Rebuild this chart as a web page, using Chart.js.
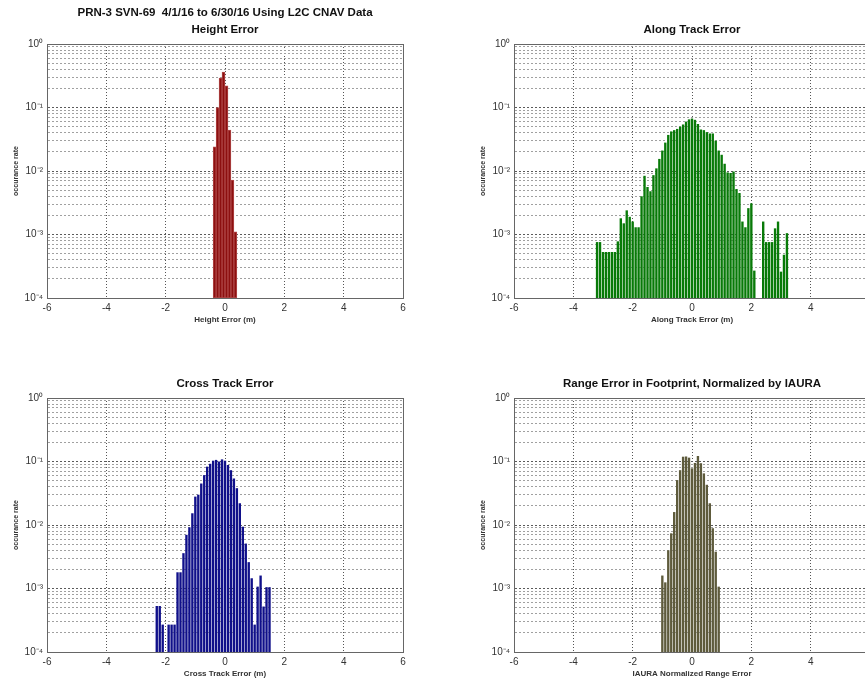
<!DOCTYPE html>
<html>
<head>
<meta charset="utf-8">
<script src="https://cdn.jsdelivr.net/npm/chart.js@4.4.0/dist/chart.umd.min.js"></script>
<style>
  body { margin:0; width:865px; height:684px; overflow:hidden; background:#fff; position:relative; }
  .box { position:absolute; }
</style>
</head>
<body>
<div class="box" style="left:0px;top:0px"><canvas id="c1" width="430" height="328"></canvas></div>
<div class="box" style="left:467px;top:0px"><canvas id="c2" width="430" height="328"></canvas></div>
<div class="box" style="left:0px;top:354px"><canvas id="c3" width="430" height="328"></canvas></div>
<div class="box" style="left:467px;top:354px"><canvas id="c4" width="430" height="328"></canvas></div>
<script>
var superTitle = "PRN-3 SVN-69  4/1/16 to 6/30/16 Using L2C CNAV Data";
var yLabel = "occurance rate";
var xTicks = [-6, -4, -2, 0, 2, 4, 6];
var yDecades = [1e-4, 1e-3, 1e-2, 1e-1, 1];
var yMinorSteps = [2, 3, 4, 5, 6, 7, 8, 9];

// height error histogram
var heightBins = [-0.35, -0.25, -0.15, -0.05, 0.05, 0.15, 0.25, 0.35];
var heightRate = [0.024, 0.10, 0.29, 0.36, 0.22, 0.044, 0.0072, 0.0011];

// along track error histogram
var alongBins = [-3.2, -3.1, -3.0, -2.9, -2.8, -2.7, -2.6, -2.5, -2.4, -2.3, -2.2, -2.1, -2.0,
  -1.9, -1.8, -1.7, -1.6, -1.5, -1.4, -1.3, -1.2, -1.1, -1.0, -0.9, -0.8, -0.7, -0.6, -0.5,
  -0.4, -0.3, -0.2, -0.1, 0, 0.1, 0.2, 0.3, 0.4, 0.5, 0.6, 0.7, 0.8, 0.9, 1.0, 1.1, 1.2, 1.3,
  1.4, 1.5, 1.6, 1.7, 1.8, 1.9, 2.0, 2.1, 2.2, 2.3, 2.4, 2.5, 2.6, 2.7, 2.8, 2.9, 3.0, 3.1, 3.2];
var alongRate = [7.6e-4, 7.6e-4, 5.3e-4, 5.3e-4, 5.3e-4, 5.3e-4, 5.3e-4, 7.8e-4, 1.8e-3, 1.5e-3,
  2.4e-3, 1.9e-3, 1.6e-3, 1.3e-3, 1.3e-3, 4.0e-3, 8.4e-3, 5.6e-3, 4.8e-3, 8.6e-3, 0.011, 0.0155,
  0.021, 0.028, 0.037, 0.042, 0.044, 0.046, 0.050, 0.054, 0.060, 0.065, 0.067, 0.064, 0.055,
  0.045, 0.044, 0.041, 0.039, 0.039, 0.030, 0.021, 0.018, 0.013, 0.0095, 0.0093, 0.0098, 0.0052,
  0.0045, 1.6e-3, 1.3e-3, 2.6e-3, 3.1e-3, 2.7e-4, null, null, 1.6e-3, 7.6e-4, 7.6e-4, 7.6e-4,
  1.25e-3, 1.6e-3, 2.6e-4, 4.8e-4, 1.05e-3];

// cross track error histogram
var crossBins = [-2.3, -2.2, -2.1, -2.0, -1.9, -1.8, -1.7, -1.6, -1.5, -1.4, -1.3, -1.2, -1.1,
  -1.0, -0.9, -0.8, -0.7, -0.6, -0.5, -0.4, -0.3, -0.2, -0.1, 0, 0.1, 0.2, 0.3, 0.4, 0.5, 0.6,
  0.7, 0.8, 0.9, 1.0, 1.1, 1.2, 1.3, 1.4, 1.5];
var crossRate = [5.3e-4, 5.3e-4, 2.7e-4, null, 2.7e-4, 2.7e-4, 2.7e-4, 1.8e-3, 1.8e-3, 3.6e-3,
  7.0e-3, 9.2e-3, 0.0153, 0.028, 0.030, 0.045, 0.061, 0.083, 0.092, 0.103, 0.106, 0.100, 0.108,
  0.103, 0.088, 0.073, 0.054, 0.038, 0.022, 9.4e-3, 5.1e-3, 2.6e-3, 1.45e-3, 2.7e-4, 1.07e-3,
  1.6e-3, 5.2e-4, 1.05e-3, 1.05e-3];

// IAURA normalized range error histogram
var rangeBins = [-1.0, -0.9, -0.8, -0.7, -0.6, -0.5, -0.4, -0.3, -0.2, -0.1, 0, 0.1, 0.2, 0.3,
  0.4, 0.5, 0.6, 0.7, 0.8, 0.9];
var rangeRate = [1.6e-3, 1.25e-3, 4.0e-3, 7.4e-3, 0.016, 0.051, 0.073, 0.119, 0.120, 0.115,
  0.078, 0.095, 0.122, 0.094, 0.065, 0.043, 0.022, 8.9e-3, 3.8e-3, 1.07e-3];

var supMap = { '0':'\u2070', '1':'\u00b9', '2':'\u00b2', '3':'\u00b3', '4':'\u2074', '-':'\u207b' };

function isDecade(v) {
  var l = Math.log10(v);
  return Math.abs(l - Math.round(l)) < 1e-6;
}

function decadeLabel(v) {
  var e = String(Math.round(Math.log10(v)));
  return '10' + e.split('').map(function (ch) { return supMap[ch]; }).join('');
}

var yTickValues = [];
yDecades.forEach(function (d) {
  yTickValues.push(d);
  if (d < 1) yMinorSteps.forEach(function (m) { yTickValues.push(d * m); });
});

function makeChart(id, titleText, xTitle, bins, rates, fill, edge, barPct) {
  var points = [];
  for (var i = 0; i < bins.length; i++) {
    points.push({ x: bins[i], y: rates[i] });
  }
  var twoLines = Array.isArray(titleText);
  return new Chart(document.getElementById(id), {
    type: 'bar',
    data: {
      datasets: [{
        data: points,
        xAxisID: 'x',
        yAxisID: 'y',
        backgroundColor: fill,
        borderColor: edge,
        borderWidth: edge ? 1 : 0,
        borderSkipped: false,
        barPercentage: barPct,
        categoryPercentage: 1,
        grouped: false
      }]
    },
    options: {
      responsive: false,
      animation: false,
      layout: { padding: { left: 0, right: 27, top: 0, bottom: 0 } },
      plugins: {
        legend: { display: false },
        tooltip: { enabled: false },
        title: {
          display: true,
          text: titleText,
          color: '#111',
          fullSize: false,
          font: { family: 'Liberation Sans, Arial, sans-serif', size: 11.5, weight: 'bold', lineHeight: '17px' },
          padding: twoLines ? { top: 4, bottom: 6 } : { top: 21, bottom: 6 }
        }
      },
      scales: {
        x: {
          type: 'linear',
          position: 'bottom',
          min: -6,
          max: 6,
          offset: false,
          afterFit: function (s) { s.height = 30; },
          afterBuildTicks: function (s) {
            s.ticks = xTicks.map(function (v) { return { value: v }; });
          },
          ticks: {
            padding: 4,
            color: '#333',
            font: { family: 'Liberation Sans, Arial, sans-serif', size: 10 }
          },
          grid: { color: '#555', lineWidth: 1, drawTicks: false, offset: false },
          border: { display: true, color: '#666', width: 1, dash: [1, 2] },
          title: {
            display: true,
            text: xTitle,
            color: '#333',
            font: { family: 'Liberation Sans, Arial, sans-serif', size: 8, weight: 'bold', lineHeight: '10px' },
            padding: { top: 0, bottom: 3 }
          }
        },
        y: {
          type: 'logarithmic',
          position: 'left',
          min: 1e-4,
          max: 1,
          afterFit: function (s) { s.width = 47; },
          afterBuildTicks: function (s) {
            s.ticks = yTickValues.map(function (v) { return { value: v, major: isDecade(v) }; });
          },
          ticks: {
            autoSkip: false,
            padding: 4,
            color: '#333',
            font: { family: 'Liberation Sans, Arial, sans-serif', size: 10 },
            callback: function (v) { return isDecade(v) ? decadeLabel(v) : ''; }
          },
          grid: {
            drawTicks: false,
            lineWidth: 1,
            color: function (ctx) {
              return ctx.tick && isDecade(ctx.tick.value) ? '#5a5a5a' : '#a0a0a0';
            }
          },
          border: { display: true, color: '#666', width: 1, dash: [2, 2] },
          title: {
            display: true,
            text: yLabel,
            color: '#333',
            font: { family: 'Liberation Sans, Arial, sans-serif', size: 7, weight: 'bold', lineHeight: '9px' },
            padding: { top: 12, bottom: 0 }
          }
        },
        xTop: {
          type: 'linear',
          position: 'top',
          min: -6,
          max: 6,
          afterFit: function (s) { s.height = 0; },
          ticks: { display: false },
          grid: { display: false, drawTicks: false },
          border: { display: true, color: '#666', width: 1 }
        },
        yRight: {
          type: 'linear',
          position: 'right',
          min: 0,
          max: 1,
          afterFit: function (s) { s.width = 0; },
          ticks: { display: false },
          grid: { display: false, drawTicks: false },
          border: { display: true, color: '#666', width: 1 }
        }
      }
    }
  });
}

makeChart('c1', [superTitle, 'Height Error'], 'Height Error (m)', heightBins, heightRate, '#8c1010', '#b04848', 1);
makeChart('c2', 'Along Track Error', 'Along Track Error (m)', alongBins, alongRate, '#087a08', null, 0.8);
makeChart('c3', 'Cross Track Error', 'Cross Track Error (m)', crossBins, crossRate, '#10108a', null, 0.8);
makeChart('c4', 'Range Error in Footprint, Normalized by IAURA', 'IAURA Normalized Range Error', rangeBins, rangeRate, '#5e5b3c', null, 0.8);
</script>
</body>
</html>
